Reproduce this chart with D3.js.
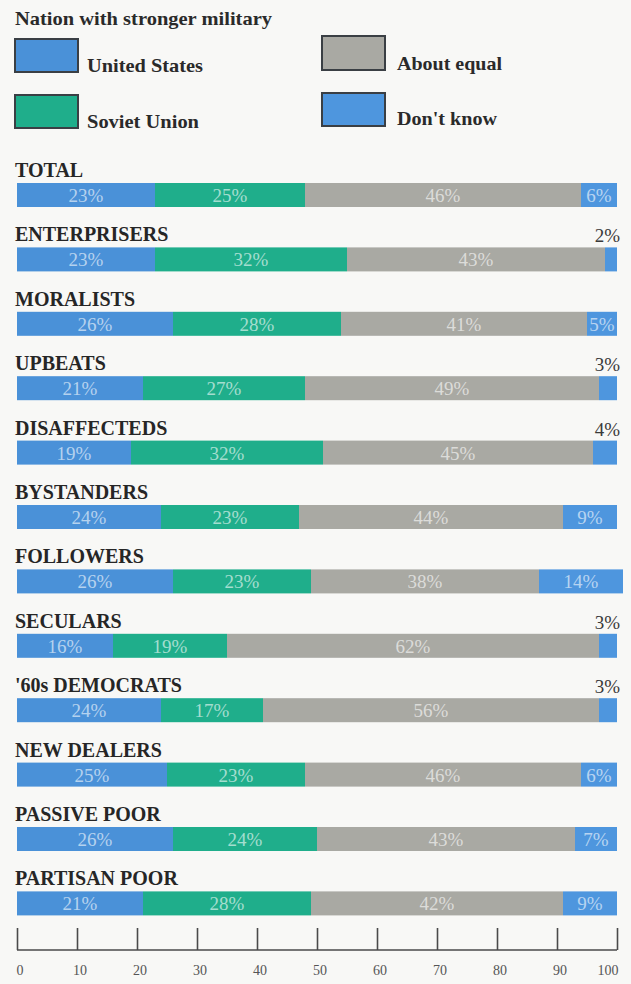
<!DOCTYPE html>
<html>
<head>
<meta charset="utf-8">
<script src="https://cdn.jsdelivr.net/npm/d3@7"></script>
<style>
  html, body { margin: 0; padding: 0; background: #f8f8f6; }
  svg { display: block; }
</style>
</head>
<body>
<div id="chart"></div>
<script>
// Survey groups and their answers (percent)
const groups = ["TOTAL", "ENTERPRISERS", "MORALISTS", "UPBEATS", "DISAFFECTEDS", "BYSTANDERS",
  "FOLLOWERS", "SECULARS", "'60s DEMOCRATS", "NEW DEALERS", "PASSIVE POOR", "PARTISAN POOR"];
const unitedStates = [23, 23, 26, 21, 19, 24, 26, 16, 24, 25, 26, 21];
const sovietUnion  = [25, 32, 28, 27, 32, 23, 23, 19, 17, 23, 24, 28];
const aboutEqual   = [46, 43, 41, 49, 45, 44, 38, 62, 56, 46, 43, 42];
const dontKnow     = [6, 2, 5, 3, 4, 9, 14, 3, 3, 6, 7, 9];
const seriesNames  = ["United States", "Soviet Union", "About equal", "Don't know"];
const axisTicks    = [0, 10, 20, 30, 40, 50, 60, 70, 80, 90, 100];
const title = "Nation with stronger military";

const colors = ["#4a91d8", "#1fae8b", "#a9a9a3", "#4e96de"];
const W = 631, H = 984;

const svg = d3.select("#chart").append("svg")
  .attr("width", W).attr("height", H)
  .style("font-family", "'Liberation Serif', 'DejaVu Serif', serif");

svg.append("rect").attr("width", W).attr("height", H).attr("fill", "#f8f8f6");

// Title
svg.append("text").attr("x", 15).attr("y", 25)
  .attr("font-size", 19).attr("font-weight", "bold").attr("fill", "#2a2a2a")
  .attr("textLength", 257).attr("lengthAdjust", "spacingAndGlyphs")
  .text(title);

// Legend: two columns of swatches with labels
const legendPos = [
  { x: 15, y: 39, h: 33, tx: 87, ty: 72, tw: 116 },
  { x: 15, y: 95, h: 33, tx: 87, ty: 128, tw: 112 },
  { x: 322, y: 36, h: 34, tx: 397, ty: 70, tw: 105 },
  { x: 322, y: 93, h: 33, tx: 397, ty: 125, tw: 100 }
];
const legend = svg.append("g");
seriesNames.forEach((name, i) => {
  const p = legendPos[i];
  legend.append("rect").attr("x", p.x).attr("y", p.y).attr("width", 63).attr("height", p.h)
    .attr("fill", colors[i]).attr("stroke", "#3a3f44").attr("stroke-width", 2);
  legend.append("text").attr("x", p.tx).attr("y", p.ty)
    .attr("font-size", 19).attr("font-weight", "bold").attr("fill", "#2a2a2a")
    .attr("textLength", p.tw).attr("lengthAdjust", "spacingAndGlyphs")
    .text(name);
});

// Scales
const x = d3.scaleLinear().domain([0, 100]).range([17, 617]);
const y = d3.scaleBand().domain(groups).range([183, 183 + 64.4 * groups.length]).paddingInner(0).paddingOuter(0);
const barH = 24;

const rows = groups.map((g, i) => {
  const vals = [unitedStates[i], sovietUnion[i], aboutEqual[i], dontKnow[i]];
  let acc = 0;
  const segs = vals.map((v, k) => {
    const s = { k, v, x0: acc, x1: acc + v };
    acc += v;
    return s;
  });
  return { g, segs };
});

const rowG = svg.selectAll("g.row").data(rows).join("g").attr("class", "row")
  .attr("transform", d => `translate(0,${y(d.g)})`);

// Group name above each bar
rowG.append("text").attr("x", 15).attr("y", -6)
  .attr("font-size", 20).attr("font-weight", "bold").attr("fill", "#262626")
  .text(d => d.g);

// Stacked segments
rowG.selectAll("rect.seg").data(d => d.segs).join("rect").attr("class", "seg")
  .attr("x", s => x(s.x0)).attr("y", 0)
  .attr("width", s => x(s.x1) - x(s.x0)).attr("height", barH)
  .attr("fill", s => colors[s.k]);

// Value labels: inside the segment, or above the bar end when too narrow
rowG.selectAll("text.val").data(d => d.segs).join("text").attr("class", "val")
  .each(function (s) {
    const t = d3.select(this);
    if (s.v < 5) {
      t.attr("x", 620).attr("y", -5).attr("text-anchor", "end")
        .attr("font-size", 19).attr("fill", "#3a3a3a");
    } else {
      t.attr("x", (x(s.x0) + x(s.x1)) / 2).attr("y", barH / 2 + 7).attr("text-anchor", "middle")
        .attr("font-size", 19).attr("fill", "#ffffff").attr("fill-opacity", 0.6);
    }
  })
  .text(s => s.v + "%");

// Axis
const axisY = 950;
const axis = d3.axisTop(x).tickValues(axisTicks).tickSize(22).tickFormat("");
const ax = svg.append("g").attr("transform", `translate(0,${axisY})`).call(axis);
ax.select(".domain").attr("stroke", "#4a4a4a").attr("stroke-width", 1.6)
  .attr("d", `M${x(0)},0H${x(100)}`);
ax.selectAll(".tick line").attr("stroke", "#4a4a4a").attr("stroke-width", 1.6);

svg.append("g").selectAll("text").data(axisTicks).join("text")
  .attr("x", d => x(d) + (d === 100 ? -9 : 3)).attr("y", axisY + 25)
  .attr("text-anchor", "middle").attr("font-size", 14).attr("fill", "#555")
  .text(d => d);
</script>
</body>
</html>
